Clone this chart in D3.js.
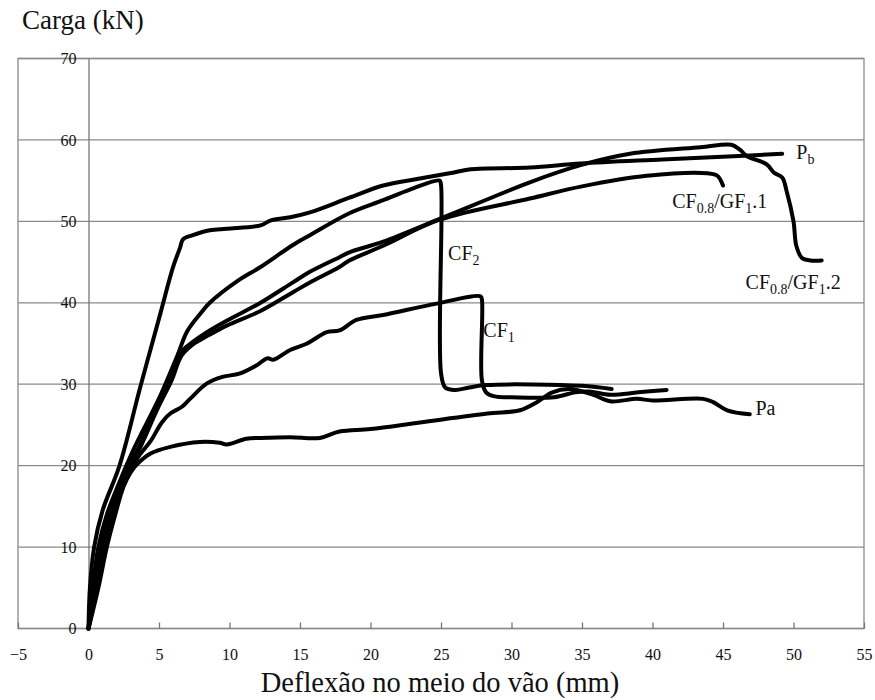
<!DOCTYPE html>
<html>
<head>
<meta charset="utf-8">
<title>Carga x deflexão</title>
<script src="https://cdnjs.cloudflare.com/ajax/libs/d3/7.8.5/d3.min.js"></script>
<style type="text/css">
body {
	margin: 0;
	background: #fff;
}
.grid line {
	stroke: #8a8a8a;
	stroke-width: 1.3;
}
.curve {
	fill: none;
	stroke: #000;
	stroke-width: 4;
	stroke-linejoin: round;
	stroke-linecap: round;
}
</style>
</head>
<body>
<div id="chart"></div>

<script type="text/javascript">
	// tick values
	var xTicks = [ -5, 0, 5, 10, 15, 20, 25, 30, 35, 40, 45, 50, 55 ];
	var yTicks = [ 0, 10, 20, 30, 40, 50, 60, 70 ];

	// curves: [deflexão (mm), carga (kN)]
	var pa = [ [0, 0], [0.7, 5], [1.3, 10], [1.9, 14], [2.5, 17.5], [3.0, 19.2],
		[3.4, 20.1], [4.4, 21.5], [5.8, 22.3], [7.9, 22.9], [9.3, 22.8], [9.8, 22.6],
		[11.2, 23.3], [12.2, 23.4], [14.3, 23.5], [16.4, 23.4], [17.8, 24.2],
		[20, 24.5], [23.5, 25.3], [28.3, 26.4], [30.6, 26.8], [31.8, 27.8],
		[32.9, 29.0], [34.1, 29.4], [35.8, 28.7], [37.0, 27.9], [38.9, 28.2],
		[40.0, 28.0], [43.6, 28.2], [44.3, 27.8], [45.3, 26.8], [46.9, 26.3] ];

	var pb = [ [0, 0], [0.1, 5], [0.4, 10], [1.0, 14.5], [2.2, 20], [3.65, 29.5],
		[5.1, 38.7], [6.0, 44.4], [6.5, 46.8], [6.7, 47.8], [7.4, 48.3], [8.6, 48.9],
		[9.8, 49.1], [12.2, 49.5], [12.9, 50.1], [14.3, 50.5], [15.7, 51.1],
		[18.5, 52.9], [20.9, 54.4], [23.3, 55.2], [25.6, 55.9], [27.1, 56.4],
		[31.3, 56.6], [34.9, 57.1], [40.7, 57.6], [46.9, 58.1], [49.2, 58.3] ];

	var cf1 = [ [0, 0], [0.6, 5], [1.1, 10], [1.7, 14], [2.6, 18], [3.5, 21],
		[4.4, 23], [5.2, 25.3], [5.8, 26.4], [6.6, 27.2], [7.2, 28.2], [8.4, 30.1],
		[9.5, 30.9], [10.7, 31.3], [11.9, 32.3], [12.7, 33.2], [13.1, 33.0],
		[14.3, 34.2], [15.5, 35.0], [16.9, 36.4], [17.8, 36.6], [19.0, 37.9],
		[20.9, 38.5], [24.7, 39.9], [27.8, 40.8], [27.9, 40.4], [27.9, 30.5],
		[28.2, 29.0], [28.8, 28.5], [30, 28.4], [33, 28.4], [34.5, 29.0],
		[35.5, 29.1], [37, 28.7], [39, 29.0], [41, 29.3] ];

	var cf2 = [ [0, 0], [0.3, 5], [0.7, 10], [1.3, 14], [2.2, 18], [3.2, 22],
		[5.07, 28.5], [6.3, 33.5], [7.0, 36.5], [7.9, 38.6], [8.6, 40.0],
		[10.5, 42.6], [12.2, 44.4], [14.5, 47.1], [15.7, 48.3], [18.5, 51.0],
		[20.9, 52.6], [22.8, 53.9], [24.9, 55.0], [25.0, 54.5], [25.0, 31.4],
		[25.3, 29.6], [26, 29.3], [27, 29.6], [28.2, 29.9], [35, 29.8], [37.1, 29.4] ];

	var gf11 = [ [0, 0], [0.5, 5], [1.0, 10], [1.6, 14], [2.4, 18], [3.6, 22],
		[4.9, 27], [5.9, 30.5], [6.6, 33.5], [7.5, 35.0], [8.5, 36.0], [9.8, 37.2],
		[12.2, 39.0], [14.5, 41.3], [15.7, 42.5], [17.8, 44.4], [18.5, 45.2],
		[20.9, 47.0], [24.9, 50.2], [31.3, 52.8], [35, 54.3], [39.6, 55.6],
		[43.9, 55.9], [44.6, 55.6], [45.0, 54.4] ];

	var gf12 = [ [0, 0], [0.4, 5], [0.9, 10], [1.5, 14], [2.3, 18], [3.5, 22],
		[4.8, 27], [5.8, 30.8], [6.5, 33.8], [7.4, 35.2], [8.4, 36.4], [9.8, 37.8],
		[12.2, 40.0], [14.5, 42.5], [15.7, 43.8], [17.8, 45.6], [18.5, 46.2],
		[20.9, 47.5], [24.9, 50.3], [28, 52.5], [31.3, 54.8], [34.9, 56.9],
		[38.4, 58.3], [43.4, 59.1], [45.6, 59.4], [46.2, 58.8], [46.7, 58.0],
		[48.1, 57.0], [48.6, 56.0], [49.2, 55.4], [49.5, 53.8], [50.0, 50],
		[50.2, 47], [50.6, 45.5], [51.2, 45.2], [52.0, 45.2] ];

	var curves = [ pa, pb, cf1, cf2, gf11, gf12 ];

	// curve labels: text pieces [text, subscript?] and anchor in data units
	var labels = [
		{ at: [50.2, 57.7], parts: [ ['P', 0], ['b', 1] ] },
		{ at: [41.4, 51.6], parts: [ ['CF', 0], ['0.8', 1], ['/GF', 0], ['1', 1], ['.1', 0] ] },
		{ at: [46.6, 41.7], parts: [ ['CF', 0], ['0.8', 1], ['/GF', 0], ['1', 1], ['.2', 0] ] },
		{ at: [25.5, 45.2], parts: [ ['CF', 0], ['2', 1] ] },
		{ at: [28.0, 35.8], parts: [ ['CF', 0], ['1', 1] ] },
		{ at: [47.3, 26.2], parts: [ ['Pa', 0] ] }
	];

	var serif = 'Liberation Serif';
	var width = 875, height = 700;

	var x = d3.scaleLinear().domain([ -5, 55 ]).range([ 18, 864 ]);
	var y = d3.scaleLinear().domain([ 0, 70 ]).range([ 628.5, 58.5 ]);

	var svg = d3.select('#chart').append('svg')
		.attr('width', width)
		.attr('height', height);

	// horizontal grid lines
	svg.append('g').attr('class', 'grid')
		.selectAll('line').data(yTicks).enter()
		.append('line')
		.attr('x1', x(-5)).attr('x2', x(55))
		.attr('y1', function(d) { return y(d); })
		.attr('y2', function(d) { return y(d); });

	// frame
	svg.append('rect')
		.attr('x', x(-5)).attr('y', y(70))
		.attr('width', x(55) - x(-5)).attr('height', y(0) - y(70))
		.attr('fill', 'none').attr('stroke', '#8a8a8a').attr('stroke-width', 1.3);

	// y axis sits on x = 0
	var yAxis = svg.append('g')
		.attr('transform', 'translate(' + x(0) + ',0)')
		.call(d3.axisLeft(y).tickValues(yTicks).tickSize(0).tickPadding(12));
	yAxis.attr('font-family', null);
	yAxis.select('.domain').attr('stroke', '#777').attr('stroke-width', 1.3);
	yAxis.selectAll('text')
		.style('font-family', serif).style('font-size', '16px').attr('fill', '#111');

	// x axis, ticks pointing up
	var xAxis = svg.append('g')
		.attr('transform', 'translate(0,' + y(0) + ')')
		.call(d3.axisBottom(x).tickValues(xTicks).tickSizeInner(-6).tickSizeOuter(0).tickPadding(20));
	xAxis.attr('font-family', null);
	xAxis.select('.domain').remove();
	xAxis.selectAll('line').attr('stroke', '#777').attr('stroke-width', 1.3);
	xAxis.selectAll('text')
		.style('font-family', serif).style('font-size', '16px').attr('fill', '#111');

	// curves
	var line = d3.line()
		.x(function(d) { return x(d[0]); })
		.y(function(d) { return y(d[1]); })
		.curve(d3.curveCatmullRom.alpha(0.5));

	svg.append('g').selectAll('path').data(curves).enter()
		.append('path')
		.attr('class', 'curve')
		.attr('d', line);

	// curve labels with subscripts
	svg.append('g').selectAll('text').data(labels).enter()
		.append('text')
		.attr('x', function(d) { return x(d.at[0]); })
		.attr('y', function(d) { return y(d.at[1]); })
		.style('font-family', serif)
		.style('font-size', '20px')
		.attr('fill', '#111')
		.each(function(d) {
			var t = d3.select(this), shifted = false;
			d.parts.forEach(function(p) {
				var s = t.append('tspan').text(p[0]);
				if (p[1] && !shifted) {
					s.attr('dy', 5).style('font-size', '14px');
					shifted = true;
				} else if (p[1]) {
					s.style('font-size', '14px');
				} else if (shifted) {
					s.attr('dy', -5);
					shifted = false;
				}
			});
		});

	// axis titles
	svg.append('text')
		.attr('x', 22).attr('y', 29)
		.style('font-family', serif).style('font-size', '27px')
		.attr('fill', '#111')
		.text('Carga (kN)');

	svg.append('text')
		.attr('x', 440).attr('y', 692)
		.attr('text-anchor', 'middle')
		.style('font-family', serif).style('font-size', '28.5px')
		.attr('fill', '#111')
		.text('Deflexão no meio do vão (mm)');
</script>
</body>
</html>
